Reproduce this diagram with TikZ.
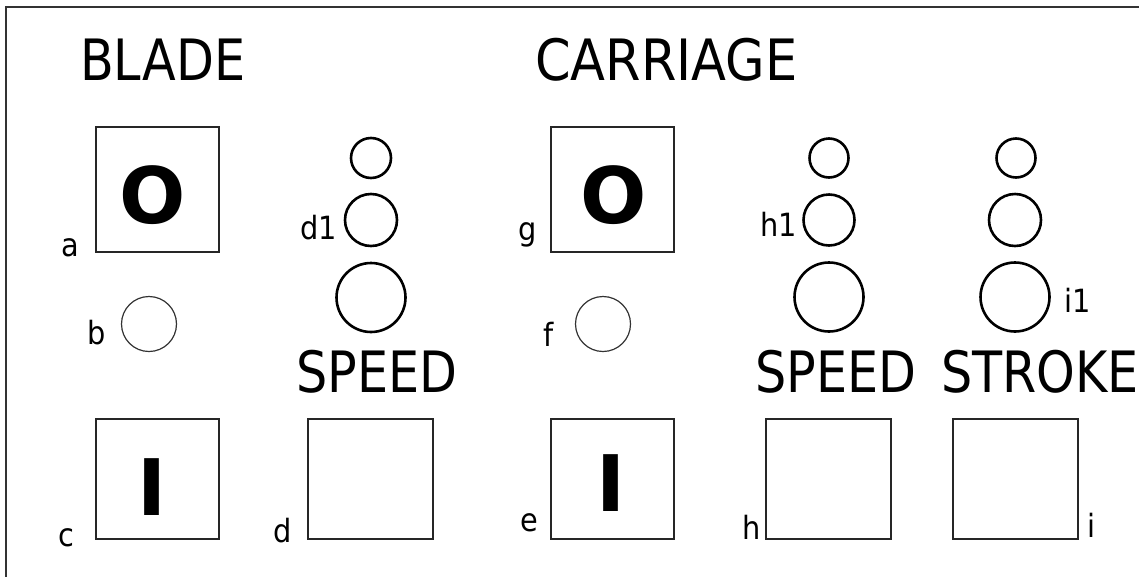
\documentclass[tikz,border=0pt]{standalone}
\usepackage{graphicx}
\usepackage{fontspec}
\setmainfont{DejaVu Sans Condensed}
\newfontfamily\boldfont{DejaVu Sans Bold}
\newcommand{\sqz}[2][0.96]{\scalebox{#1}[1]{#2}}
\begin{document}
\begin{tikzpicture}[x=1pt,y=-1pt,
  box/.style={draw=black!85,line width=1.6pt,inner sep=0pt,minimum height=#1},
  box/.default=125pt,
  ring/.style={draw=black,line width=2.6pt,circle,inner sep=0pt,minimum size=#1},
  thinring/.style={draw=black!80,line width=1.2pt,circle,inner sep=0pt,minimum size=#1},
  title/.style={inner sep=0pt,anchor=base west,font=\fontsize{57}{60}\selectfont},
  lbl/.style={inner sep=0pt,anchor=base west,font=\fontsize{32}{34}\selectfont},
  big/.style={inner sep=0pt,anchor=base,font=\boldfont\fontsize{78}{80}\selectfont}]
\useasboundingbox (0,0) rectangle (1139,576);
\begin{scope}
\clip (0,0) rectangle (1139,576);
\draw[line width=2pt,black!80] (6,600) -- (6,7) -- (1160,7);
\end{scope}
% titles
\node[title] (tblade) at (80,80) {\sqz{BLADE}};
\node[title] (tcarr) at (535,80) {\sqz[0.995]{CARRIAGE}};
\node[title] (tspeed1) at (296,392) {\sqz{SPEED}};
\node[title] (tspeed2) at (755,392) {\sqz{SPEED}};
\node[title] (tstroke) at (941,392) {\sqz{STROKE}};
% boxes
\node[box, minimum width=123pt] (a) at (157.5,189.5) {};
\node[box, minimum width=123pt] (g) at (612.5,189.5) {};
\node[box=120pt, minimum width=123pt] (c) at (157.5,479) {};
\node[box=120pt, minimum width=125pt] (d) at (370.5,479) {};
\node[box=120pt, minimum width=123pt] (e) at (612.5,479) {};
\node[box=120pt, minimum width=125pt] (h) at (828.5,479) {};
\node[box=120pt, minimum width=125pt] (i) at (1015.5,479) {};
\node[big] (oa) at (153,223) {O};
\node[big] (og) at (614,223) {O};
\node[big] (ic) at (152,515) {I};
\node[big] (ie) at (611,511) {I};
% circles
\node[ring=40pt] (d3) at (371,158) {};
\node[ring=52pt] (d1) at (371,220) {};
\node[ring=69pt] (d2) at (371,297.5) {};
\node[thinring=55pt] (b) at (149,324) {};
\node[thinring=55pt] (f) at (603,324) {};
\node[ring=39pt] (h3) at (829,158) {};
\node[ring=51pt] (h1) at (829,220) {};
\node[ring=69pt] (h2) at (829,297) {};
\node[ring=39pt] (i3) at (1016,158) {};
\node[ring=52pt] (i2) at (1015,220) {};
\node[ring=69pt] (i1) at (1015,297) {};
% labels
\node[lbl] (la) at (61,256) {a};
\node[lbl] (lb) at (87,344) {b};
\node[lbl] (lc) at (58,546) {c};
\node[lbl] (ld) at (273,542) {d};
\node[lbl] (ld1) at (300,239) {d1};
\node[lbl] (lg) at (518,240) {g};
\node[lbl] (lh1) at (760,236) {h1};
\node[lbl] (lf) at (543,346) {f};
\node[lbl] (le) at (520,531) {e};
\node[lbl] (lh) at (742,539) {h};
\node[lbl] (li) at (1087,537) {i};
\node[lbl] (li1) at (1064,312) {i1};
\end{tikzpicture}
\end{document}
